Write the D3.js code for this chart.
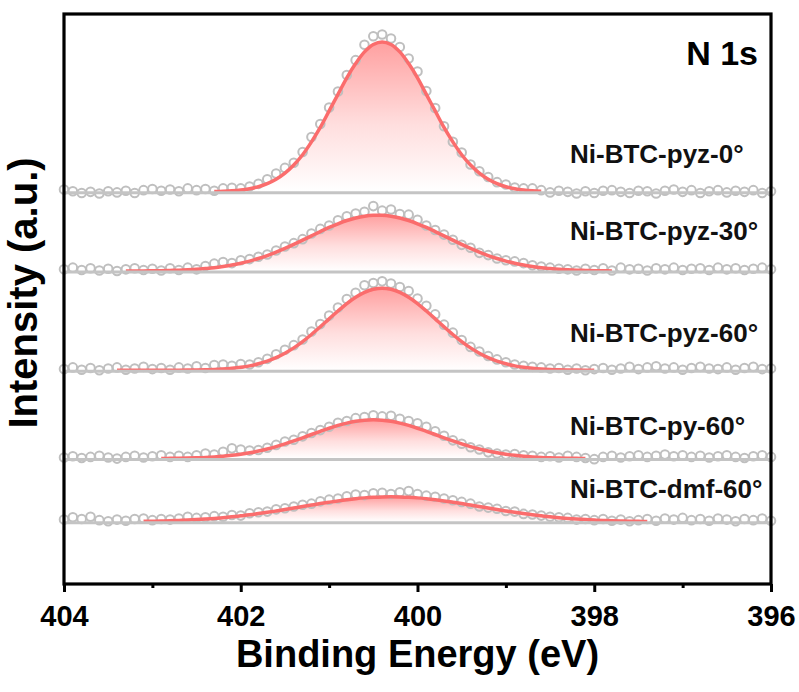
<!DOCTYPE html>
<html><head><meta charset="utf-8">
<script src="https://cdn.jsdelivr.net/npm/d3@7"></script>
<style>body{margin:0;background:#fff}svg{display:block}</style>
</head><body><svg id="c" width="799" height="692"></svg>
<script>
// ---------------- DATA ----------------
const sampleNames = ["Ni-BTC-pyz-0°", "Ni-BTC-pyz-30°", "Ni-BTC-pyz-60°", "Ni-BTC-py-60°", "Ni-BTC-dmf-60°"];
const coreLevel = "N 1s";
const xTicks = [404, 402, 400, 398, 396];
const xMinorTicks = [403, 401, 399, 397];
// raw spectra: binding energy 404.0 -> 396.0 eV, step 0.1 eV (intensity above background, a.u.)
const rawStart = 404.0, rawStep = 0.1;
const rawPyz0 = [0.4,0.1,-0.2,0.0,-0.3,0.1,-0.1,0.2,-0.2,0.3,0.5,0.2,0.4,0.1,0.6,0.3,0.5,0.2,0.6,
  0.7,0.6,0.95,1.4,2.2,3.2,4.2,5.1,7.0,9.6,11.9,14.8,17.6,20.5,23.1,25.8,27.3,27.6,26.9,25.4,23.4,21.1,17.7,14.7,11.5,8.8,6.9,4.8,3.6,2.6,1.7,1.3,0.75,0.6,0.6,0.3,
  -0.1,0.2,0.0,-0.3,0.1,-0.2,0.2,0.3,0.0,-0.2,0.2,0.1,-0.3,0.2,0.4,0.0,0.3,-0.2,0.1,0.3,-0.1,0.2,0.0,0.3,-0.2,0.1];
const rawPyz30 = [0.3,0.6,0.2,0.5,0.1,0.4,0.0,0.3,0.5,0.2,0.4,
  0.1,0.5,0.2,0.6,0.3,0.9,1.3,1.6,1.4,1.9,2.1,2.5,2.9,3.6,4.3,4.9,5.6,6.6,7.4,8.0,8.9,9.6,10.1,10.4,11.4,10.6,10.8,10.0,9.9,9.0,8.0,7.2,6.4,5.5,4.6,4.1,3.2,2.8,2.2,1.9,1.7,1.4,1.0,0.8,0.6,0.4,0.3,0.1,0.4,0.2,
  0.5,0.1,0.6,0.3,0.4,0.1,0.5,0.3,0.6,0.2,0.4,0.5,0.2,0.6,0.3,0.5,0.2,0.4,0.6,0.3];
const rawPyz60 = [0.2,0.5,0.1,0.4,0.0,0.3,0.5,0.1,0.3,0.6,0.2,0.4,0.1,0.5,0.3,0.7,
  0.4,0.9,1.0,0.8,1.1,1.0,1.4,2.0,2.8,3.6,4.4,5.4,6.8,8.1,9.6,11.0,12.5,13.6,14.9,15.3,15.6,15.2,14.6,13.9,12.6,11.3,9.8,8.0,6.6,5.3,4.1,3.3,2.5,1.9,1.4,1.0,0.8,0.6,0.5,0.3,0.4,
  0.1,0.3,0.0,0.2,0.4,0.1,0.3,0.6,0.2,0.5,0.7,0.3,0.5,0.1,0.4,0.6,0.3,0.2,0.5,0.1,0.4,0.6,0.2,0.3];
const rawPy60 = [0.2,0.4,0.1,0.3,0.5,0.2,0.0,0.3,0.5,0.2,0.4,0.6,0.3,0.5,
  0.3,0.6,0.9,0.7,1.2,1.8,1.6,1.4,1.5,1.9,2.4,3.0,3.3,3.9,4.5,5.0,5.6,6.3,6.6,7.1,7.3,7.6,7.4,7.5,7.0,6.6,6.2,5.6,4.8,4.0,3.2,2.6,2.0,1.6,1.1,0.9,0.7,0.8,0.6,0.5,0.3,0.4,0.2,
  0.5,0.3,0.1,-0.1,0.3,0.5,0.2,0.4,0.6,0.3,0.5,0.7,0.4,0.6,0.3,0.5,0.2,0.4,0.6,0.3,0.1,0.4,0.6,0.3];
const rawDmf60 = [0.4,0.8,0.5,0.9,0.3,0.1,0.4,0.2,0.5,
  0.6,0.3,0.5,0.4,0.6,0.9,0.7,0.8,1.0,0.9,1.2,1.1,1.5,1.7,1.8,2.2,2.4,2.7,3.0,3.2,3.6,3.9,4.1,4.5,4.8,4.7,5.0,5.1,4.9,5.2,5.4,4.9,4.6,4.4,4.1,3.8,3.5,3.2,2.7,2.5,2.3,1.9,1.8,1.4,1.3,1.1,0.9,0.8,0.7,0.4,0.5,0.3,0.5,0.2,0.4,0.1,0.3,
  0.5,0.2,0.6,0.4,0.7,0.3,0.5,0.2,0.6,0.4,0.1,0.5,0.3,0.6,0.2];
// fitted components (step 0.1 eV, starting at fitStart)
const fitStart = [402.3, 403.3, 403.4, 402.9, 403.1];
const fitPyz0 = [0.05,0.1,0.18,0.32,0.55,0.9,1.44,2.2,3.28,4.7,6.5,8.76,11.3,14.2,17.1,20.0,22.5,24.55,25.85,26.3,25.85,24.55,22.5,20.0,17.1,14.2,11.3,8.76,6.5,4.7,3.28,2.2,1.44,0.9,0.55,0.32,0.18,0.1];
const fitPyz30 = [0.01,0.02,0.03,0.05,0.07,0.11,0.15,0.22,0.31,0.44,0.59,0.80,1.05,1.37,1.75,2.2,2.72,3.32,3.97,4.68,5.42,6.18,6.93,7.65,8.30,8.87,9.31,9.62,9.78,9.78,9.62,9.31,8.87,8.30,7.65,6.93,6.18,5.42,4.68,3.97,3.32,2.72,2.2,1.75,1.37,1.05,0.80,0.59,0.44,0.31,0.22,0.15,0.11,0.07,0.05,0.03];
const fitPyz60 = [0,0,0,0,0,0,0.01,0.015,0.03,0.05,0.08,0.13,0.21,0.34,0.52,0.77,1.13,1.6,2.21,2.99,3.92,5.02,6.27,7.62,9.02,10.4,11.7,12.81,13.67,14.21,14.4,14.21,13.67,12.81,11.7,10.4,9.02,7.62,6.27,5.02,3.92,2.99,2.21,1.6,1.13,0.77,0.52,0.34,0.21,0.13,0.08,0.05,0.03,0.015,0.01];
const fitPy60 = [0.03,0.04,0.06,0.09,0.14,0.2,0.29,0.41,0.57,0.76,1.01,1.32,1.68,2.1,2.58,3.10,3.65,4.23,4.79,5.33,5.82,6.23,6.54,6.73,6.8,6.73,6.54,6.23,5.82,5.33,4.79,4.23,3.65,3.10,2.58,2.1,1.68,1.32,1.01,0.76,0.57,0.41,0.29,0.2,0.14,0.09,0.06,0.04,0.03];
const fitDmf60 = [0.09,0.12,0.16,0.2,0.26,0.32,0.40,0.50,0.61,0.74,0.89,1.06,1.24,1.45,1.67,1.91,2.16,2.42,2.69,2.95,3.21,3.45,3.68,3.89,4.07,4.21,4.31,4.38,4.4,4.38,4.31,4.21,4.07,3.89,3.68,3.45,3.21,2.95,2.69,2.42,2.16,1.91,1.67,1.45,1.24,1.06,0.89,0.74,0.61,0.50,0.40,0.32,0.26,0.2,0.16,0.12,0.09,0.07];
// vertical stacking offsets (a.u.)
const offsets = [68.8, 54.9, 37.5, 22.0, 10.9];

const rawSeries = [rawPyz0, rawPyz30, rawPyz60, rawPy60, rawDmf60];
const fitSeries = [fitPyz0, fitPyz30, fitPyz60, fitPy60, fitDmf60];

// ---------------- LAYOUT ----------------
const m = {left: 64, right: 771, top: 14, bottom: 584};
const labelX = 570;
const labelBaselinePx = [163, 240, 342, 435, 498];
const FONT = "'Liberation Sans', Arial, Helvetica, sans-serif";

const svg = d3.select("#c");
const x = d3.scaleLinear().domain([404, 396]).range([m.left, m.right]);
const y = d3.scaleLinear().domain([0, 100]).range([m.bottom, m.top]);

const defs = svg.append("defs");
const plot = svg.append("g");

rawSeries.forEach((raw, i) => {
  const off = offsets[i];
  const fit = fitSeries[i].map((v, j) => ({e: fitStart[i] - j * 0.1, v}));
  const pts = raw.map((v, j) => ({e: rawStart - j * rawStep, v}));
  const peak = d3.max(fit, d => d.v);

  const gid = "grad" + i;
  const g = defs.append("linearGradient").attr("id", gid)
    .attr("gradientUnits", "userSpaceOnUse")
    .attr("x1", 0).attr("x2", 0)
    .attr("y1", y(off + peak)).attr("y2", y(off));
  g.append("stop").attr("offset", 0).attr("stop-color", "#ffa0a0");
  g.append("stop").attr("offset", 0.55).attr("stop-color", "#ffdede");
  g.append("stop").attr("offset", 1).attr("stop-color", "#ffffff");

  const area = d3.area().x(d => x(d.e)).y0(y(off)).y1(d => y(off + d.v)).curve(d3.curveCatmullRom);
  plot.append("path").datum(fit).attr("d", area).attr("fill", `url(#${gid})`);

  // raw points
  plot.append("g").selectAll("circle").data(pts).join("circle")
    .attr("cx", d => x(d.e)).attr("cy", d => y(off + d.v))
    .attr("r", 4.3).attr("fill", "none")
    .attr("stroke", "#bfbfbf").attr("stroke-width", 2);

  // fitted curve
  const line = d3.line().x(d => x(d.e)).y(d => y(off + d.v)).curve(d3.curveCatmullRom);
  plot.append("path").datum(fit).attr("d", line)
    .attr("fill", "none").attr("stroke", "#fb6c6c").attr("stroke-width", 3.5)
    .attr("stroke-linejoin", "round");

  // background line
  plot.append("line")
    .attr("x1", x(404)).attr("x2", x(396))
    .attr("y1", y(off) + 1).attr("y2", y(off) + 1)
    .attr("stroke", "#c4c4c4").attr("stroke-width", 3);

  // sample label
  svg.append("text").attr("x", labelX).attr("y", labelBaselinePx[i])
    .attr("font-family", FONT).attr("font-weight", "bold").attr("font-size", 26)
    .attr("fill", "#111").text(sampleNames[i]);
});

// axes
const xAxis = d3.axisBottom(x).tickValues(xTicks).tickSize(8).tickPadding(13).tickFormat(d3.format("d"));
const gx = svg.append("g").attr("transform", `translate(0,${m.bottom})`).call(xAxis);
gx.select(".domain").remove();
gx.selectAll(".tick line").attr("stroke", "#000").attr("stroke-width", 3);
gx.selectAll(".tick text").attr("font-family", FONT).attr("font-weight", "bold")
  .attr("font-size", 29).attr("fill", "#000");
const gxm = svg.append("g").attr("transform", `translate(0,${m.bottom})`)
  .call(d3.axisBottom(x).tickValues(xMinorTicks).tickSize(4).tickFormat(""));
gxm.select(".domain").remove();
gxm.selectAll(".tick line").attr("stroke", "#000").attr("stroke-width", 3);

svg.append("rect").attr("x", m.left).attr("y", m.top)
  .attr("width", m.right - m.left).attr("height", m.bottom - m.top)
  .attr("fill", "none").attr("stroke", "#000").attr("stroke-width", 3.2);

// titles
svg.append("text").attr("x", (m.left + m.right) / 2).attr("y", 667)
  .attr("text-anchor", "middle").attr("font-family", FONT).attr("font-weight", "bold")
  .attr("font-size", 38).attr("fill", "#000").text("Binding Energy (eV)");
svg.append("text").attr("transform", "translate(37,293) rotate(-90)")
  .attr("text-anchor", "middle").attr("font-family", FONT).attr("font-weight", "bold")
  .attr("font-size", 40).attr("fill", "#000").text("Intensity (a.u.)");
svg.append("text").attr("x", 758).attr("y", 65).attr("text-anchor", "end")
  .attr("font-family", FONT).attr("font-weight", "bold").attr("font-size", 34)
  .attr("fill", "#000").text(coreLevel);
</script>
</body></html>
